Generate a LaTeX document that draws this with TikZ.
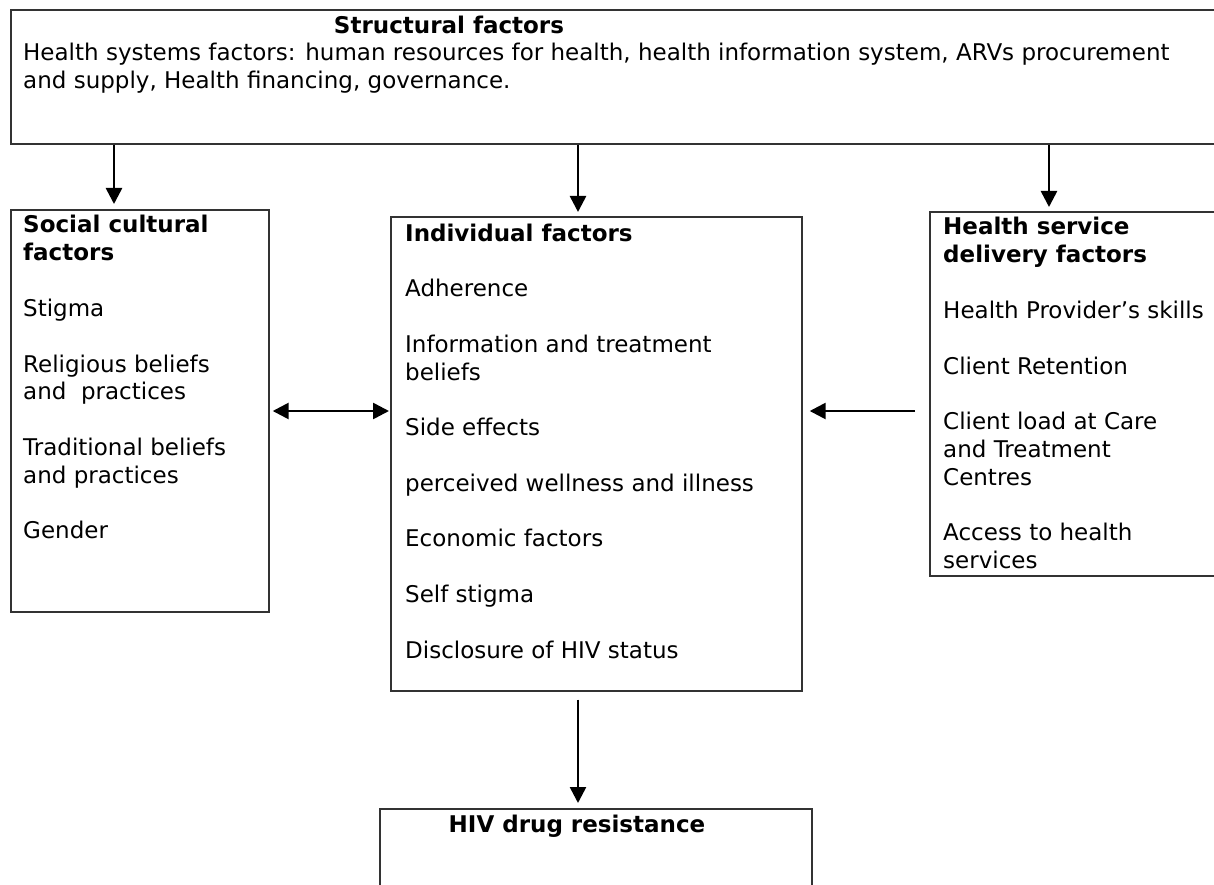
\documentclass[tikz,border=0pt]{standalone}
\usepackage{fontspec}
\setmainfont{DejaVu Sans}
\usetikzlibrary{arrows.meta}
% stacked lines whose baseline is that of the first line
\newcommand{\linesat}[1]{\begin{tabular}[t]{@{}l@{}}#1\end{tabular}}
\begin{document}
\begin{tikzpicture}[x=1pt,y=-1pt,
  box/.style={draw=black!80, line width=1.7pt, anchor=north west, inner sep=0pt},
  txt/.style={anchor=base west, inner sep=0pt, font=\fontsize{23}{27.8}\selectfont},
  ttl/.style={anchor=base, inner sep=0pt, font=\fontsize{23}{27.8}\selectfont\bfseries},
  link/.style={line width=2.6pt, -{Triangle[length=16pt,width=16pt]}},
  twoway/.style={line width=2.6pt, {Triangle[length=16pt,width=16pt]}-{Triangle[length=16pt,width=16pt]}}]
\useasboundingbox (0,0) rectangle (1214,885);
\clip (0,0) rectangle (1214,885);

% boxes
\node[box, minimum width=1240pt, minimum height=134pt] (struct) at (10,9) {};
\node[box, minimum width=258pt, minimum height=402pt] (social) at (10,209) {};
\node[box, minimum width=411pt, minimum height=474pt] (indiv) at (390,216) {};
\node[box, minimum width=300pt, minimum height=364pt] (service) at (929,211) {};
\node[box, minimum width=432pt, minimum height=120pt] (hivdr) at (379,808) {};

% box contents
\node[ttl] (structtitle) at (449,34) {Structural factors};
\node[txt] (structtext) at (23,61) {\linesat{Health systems factors: human resources for health, health information system, ARVs procurement\\and supply, Health financing, governance.}};

\node[txt] (socialtext) at (23,233) {\linesat{\textbf{Social cultural}\\\textbf{factors}\\[27.8pt]Stigma\\[27.8pt]Religious beliefs\\and\ \ practices\\[27.8pt]Traditional beliefs\\and practices\\[27.8pt]Gender}};

\node[txt] (indivtext) at (405,241) {\linesat{\textbf{Individual factors}\\[27.8pt]Adherence\\[27.8pt]Information and treatment\\beliefs\\[27.8pt]Side effects\\[27.8pt]perceived wellness and illness\\[27.8pt]Economic factors\\[27.8pt]Self stigma\\[27.8pt]Disclosure of HIV status}};

\node[txt] (servicetext) at (943,235) {\linesat{\textbf{Health service}\\\textbf{delivery factors}\\[27.8pt]Health Provider’s skills\\[27.8pt]Client Retention\\[27.8pt]Client load at Care\\and Treatment\\Centres\\[27.8pt]Access to health\\services}};

\node[ttl] (hivtitle) at (577,832) {HIV drug resistance};

% connector columns
\coordinate (colA) at (114,0);
\coordinate (colB) at (578,0);
\coordinate (colC) at (1049,0);
\coordinate (midrow) at (0,411);
\coordinate (servicetail) at (915,411);

% connectors
\draw[link, shorten >=5pt] (struct.south -| colA) -- (social.north -| colA);
\draw[link, shorten >=4pt] (struct.south -| colB) -- (indiv.north -| colB);
\draw[link, shorten >=4pt] (struct.south -| colC) -- (service.north -| colC);
\draw[twoway, shorten <=3pt, shorten >=1pt] (social.east |- midrow) -- (indiv.west |- midrow);
\draw[link, shorten >=7pt] (servicetail) -- (indiv.east |- midrow);
\draw[link, shorten <=8pt, shorten >=5pt] (indiv.south -| colB) -- (hivdr.north -| colB);
\end{tikzpicture}
\end{document}
